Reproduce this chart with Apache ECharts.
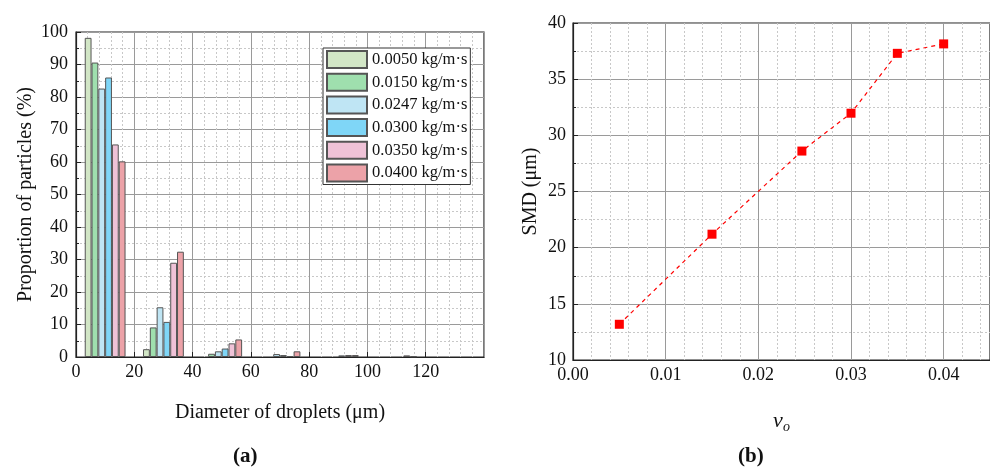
<!DOCTYPE html>
<html>
<head>
<meta charset="utf-8">
<script src="https://cdn.jsdelivr.net/npm/echarts@6/dist/echarts.min.js"></script>
<style>
html,body{margin:0;padding:0;background:#fff;}
#c{width:990px;height:468px;}
</style>
</head>
<body>
<div id="c"></div>
<script>
// ---- data: panel (a) ----
const diameters = [10, 30, 50, 70, 90, 110];
const seriesNames = ['0.0050 kg/m·s', '0.0150 kg/m·s', '0.0247 kg/m·s', '0.0300 kg/m·s', '0.0350 kg/m·s', '0.0400 kg/m·s'];
const v0050 = [98.2, 2.4, 0, 0, 0, 0];
const v0150 = [90.6, 9.1, 1.0, 0, 0, 0];
const v0247 = [82.6, 15.3, 1.75, 0.9, 0, 0];
const v0300 = [86.0, 10.8, 2.6, 0.6, 0.5, 0];
const v0350 = [65.4, 29.0, 4.2, 0.3, 0.6, 0.5];
const v0400 = [60.2, 32.4, 5.4, 1.75, 0.6, 0.2];
const barColors = ['#d2e6c6', '#9fdfae', '#bfe5f4', '#7fd6f7', '#efc2d7', '#eca2a8'];
// ---- data: panel (b) ----
const viscosity = [0.005, 0.015, 0.0247, 0.03, 0.035, 0.04];
const smd = [13.18, 21.2, 28.6, 31.97, 37.3, 38.14];

const barSets = [v0050, v0150, v0247, v0300, v0350, v0400];
const serif = 'Liberation Serif';
const tickFont = {fontFamily: serif, fontSize: 18, color: '#111'};
const majorLine = {show: true, lineStyle: {color: '#9a9a9a', width: 1, type: 'solid'}};
const minorLine = {show: true, lineStyle: {color: '#c8c8c8', width: 1, type: [2, 2]}};

const chart = echarts.init(document.getElementById('c'), null, {renderer: 'canvas'});

const barSeries = barSets.map((vals, i) => ({
  name: seriesNames[i],
  type: 'bar',
  xAxisIndex: 0, yAxisIndex: 0,
  barWidth: 6.8,
  barGap: '0%',
  data: diameters.map((d, k) => [d, vals[k] > 0 ? vals[k] : null]),
  itemStyle: {color: barColors[i], borderColor: '#555', borderWidth: 1},
  emphasis: {disabled: true},
  z: 3
}));

chart.setOption({
  animation: false,
  backgroundColor: '#fff',
  grid: [
    {left: 76, top: 32, width: 408, height: 325, show: true, borderColor: '#222', borderWidth: 1.2, backgroundColor: 'transparent'},
    {left: 573, top: 23, width: 417, height: 337, show: true, borderColor: '#222', borderWidth: 1.2, backgroundColor: 'transparent'}
  ],
  legend: {
    orient: 'vertical', left: 323, top: 48,
    padding: [2, 3, 2, 3], itemGap: 3.7, itemWidth: 40, itemHeight: 17,
    backgroundColor: '#fff', borderColor: '#333', borderWidth: 1,
    textStyle: {fontFamily: serif, fontSize: 16.5, color: '#111'},
    icon: 'rect',
    data: seriesNames
  },
  xAxis: [
    {gridIndex: 0, type: 'value', min: 0, max: 140, interval: 20,
      axisLine: {show: true, onZero: false, lineStyle: {color: '#222', width: 1.2}},
      axisTick: {show: true, inside: true, length: 5, lineStyle: {color: '#222'}},
      minorTick: {show: false},
      axisLabel: Object.assign({margin: 6, showMaxLabel: false}, tickFont),
      splitLine: majorLine,
      minorSplitLine: minorLine,
      name: 'Diameter of droplets (μm)', nameLocation: 'middle', nameGap: 46,
      nameTextStyle: {fontFamily: serif, fontSize: 20, color: '#111'}
    },
    {gridIndex: 1, type: 'value', min: 0, max: 0.045, interval: 0.01,
      axisLine: {show: true, onZero: false, lineStyle: {color: '#222', width: 1.2}},
      axisTick: {show: false},
      axisLabel: Object.assign({margin: 6, showMaxLabel: false, formatter: v => v.toFixed(2)}, tickFont),
      splitLine: majorLine,
      minorSplitLine: minorLine,
      name: '{i|v}{s|o}', nameLocation: 'middle', nameGap: 48,
      nameTextStyle: {rich: {
        i: {fontFamily: serif, fontStyle: 'italic', fontSize: 22, color: '#111'},
        s: {fontFamily: serif, fontStyle: 'italic', fontSize: 14, color: '#111', padding: [12, 0, 0, 0]}
      }}
    }
  ],
  yAxis: [
    {gridIndex: 0, type: 'value', min: 0, max: 100, interval: 10,
      axisLine: {show: true, lineStyle: {color: '#222', width: 1.2}},
      axisTick: {show: true, inside: true, length: 5, lineStyle: {color: '#222'}},
      minorTick: {show: true, splitNumber: 2, length: 3, lineStyle: {color: '#222'}},
      axisLabel: Object.assign({margin: 8}, tickFont),
      splitLine: majorLine,
      minorSplitLine: minorLine,
      name: 'Proportion of particles (%)', nameLocation: 'middle', nameGap: 40,
      nameTextStyle: {fontFamily: serif, fontSize: 20, color: '#111'}
    },
    {gridIndex: 1, type: 'value', min: 10, max: 40, interval: 5,
      axisLine: {show: true, lineStyle: {color: '#222', width: 1.2}},
      axisTick: {show: true, inside: true, length: 5, lineStyle: {color: '#222'}},
      minorTick: {show: true, splitNumber: 2, length: 3, lineStyle: {color: '#222'}},
      axisLabel: Object.assign({margin: 7}, tickFont),
      splitLine: majorLine,
      minorSplitLine: minorLine,
      name: 'SMD (μm)', nameLocation: 'middle', nameGap: 32,
      nameTextStyle: {fontFamily: serif, fontSize: 20, color: '#111'}
    }
  ],
  series: barSeries.concat([{
    name: 'SMD', type: 'line', xAxisIndex: 1, yAxisIndex: 1,
    data: viscosity.map((v, i) => [v, smd[i]]),
    symbol: 'rect', symbolSize: 9,
    itemStyle: {color: '#ff0000'},
    lineStyle: {color: '#ff0000', width: 1.2, type: [4, 4]},
    emphasis: {disabled: true},
    z: 5
  }]),
  graphic: [
    {type: 'text', left: 233, top: 446, style: {text: '(a)', fontFamily: serif, fontWeight: 'bold', fontSize: 21, fill: '#111'}},
    {type: 'text', left: 738, top: 446, style: {text: '(b)', fontFamily: serif, fontWeight: 'bold', fontSize: 21, fill: '#111'}}
  ]
});
</script>
</body>
</html>
